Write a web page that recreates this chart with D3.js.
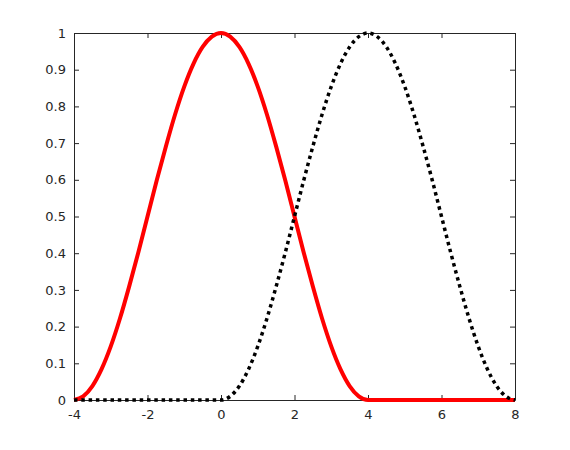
<!DOCTYPE html>
<html>
<head>
<meta charset="utf-8">
<title>Shifted bumps</title>
<script src="https://cdn.jsdelivr.net/npm/d3@7"></script>
<style>
body { margin: 0; background: #fff; }
.axis text { font-family: "DejaVu Sans", sans-serif; font-size: 13px; fill: #262626; }
.axis path, .axis line { stroke: #262626; }
</style>
</head>
<body>
<svg class="chart" width="570" height="450"></svg>
<script>
// values
var xs = [-4, -3.75, -3.5, -3.25, -3, -2.75, -2.5, -2.25, -2, -1.75, -1.5, -1.25, -1, -0.75, -0.5, -0.25,
          0, 0.25, 0.5, 0.75, 1, 1.25, 1.5, 1.75, 2, 2.25, 2.5, 2.75, 3, 3.25, 3.5, 3.75,
          4, 4.25, 4.5, 4.75, 5, 5.25, 5.5, 5.75, 6, 6.25, 6.5, 6.75, 7, 7.25, 7.5, 7.75, 8];

var redY = [0, 0.010, 0.038, 0.084, 0.146, 0.222, 0.309, 0.402, 0.5, 0.598, 0.691, 0.778, 0.854, 0.916, 0.962, 0.990,
            1, 0.990, 0.962, 0.916, 0.854, 0.778, 0.691, 0.598, 0.5, 0.402, 0.309, 0.222, 0.146, 0.084, 0.038, 0.010,
            0, 0, 0, 0, 0, 0, 0, 0, 0, 0, 0, 0, 0, 0, 0, 0, 0];

var blackY = [0, 0, 0, 0, 0, 0, 0, 0, 0, 0, 0, 0, 0, 0, 0, 0,
              0, 0.010, 0.038, 0.084, 0.146, 0.222, 0.309, 0.402, 0.5, 0.598, 0.691, 0.778, 0.854, 0.916, 0.962, 0.990,
              1, 0.990, 0.962, 0.916, 0.854, 0.778, 0.691, 0.598, 0.5, 0.402, 0.309, 0.222, 0.146, 0.084, 0.038, 0.010, 0];

var xTicks = [-4, -2, 0, 2, 4, 6, 8];
var yTicks = [0, 0.1, 0.2, 0.3, 0.4, 0.5, 0.6, 0.7, 0.8, 0.9, 1];

var margin = {top: 33, right: 55, bottom: 50, left: 74};
var width = 441;
var height = 367;

var chart = d3.select(".chart")
  .append("g")
  .attr("transform", "translate(" + margin.left + "," + margin.top + ")");

var x = d3.scaleLinear().domain([-4, 8]).range([0, width]);
var y = d3.scaleLinear().domain([0, 1]).range([height, 0]);

// plain hyphen for negatives, like the original
var fmt = function(d){ return String(d); };

// box with inward ticks on all sides
chart.append("g").attr("class", "axis")
  .attr("transform", "translate(0," + height + ")")
  .call(d3.axisBottom(x).tickValues(xTicks).tickSizeInner(-5).tickSizeOuter(0).tickPadding(10).tickFormat(fmt));
chart.append("g").attr("class", "axis")
  .call(d3.axisTop(x).tickValues(xTicks).tickSizeInner(-5).tickSizeOuter(0).tickFormat(""));
chart.append("g").attr("class", "axis")
  .call(d3.axisLeft(y).tickValues(yTicks).tickSizeInner(-5).tickSizeOuter(0).tickPadding(8).tickFormat(fmt));
chart.append("g").attr("class", "axis")
  .attr("transform", "translate(" + width + ",0)")
  .call(d3.axisRight(y).tickValues(yTicks).tickSizeInner(-5).tickSizeOuter(0).tickFormat(""));

var line = d3.line()
  .x(function(d){ return x(d[0]); })
  .y(function(d){ return y(d[1]); })
  .curve(d3.curveMonotoneX);

chart.append("path")
  .datum(xs.map(function(v, i){ return [v, redY[i]]; }))
  .attr("fill", "none")
  .attr("stroke", "#ff0000")
  .attr("stroke-width", 4)
  .attr("d", line);

chart.append("path")
  .datum(xs.map(function(v, i){ return [v, blackY[i]]; }))
  .attr("fill", "none")
  .attr("stroke", "#000")
  .attr("stroke-width", 3.5)
  .attr("stroke-dasharray", "3.5,3.8")
  .attr("d", line);
</script>
</body>
</html>
